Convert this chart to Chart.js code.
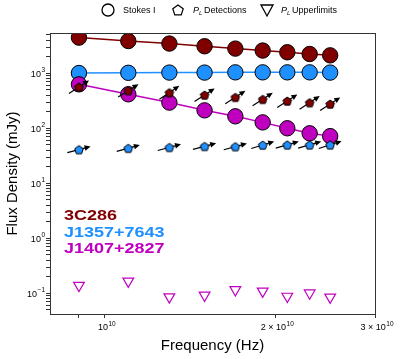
<!DOCTYPE html>
<html>
<head>
<meta charset="utf-8">
<script src="https://cdn.jsdelivr.net/npm/chart.js@4"></script>
<style>
  body { margin: 0; background: #fff; }
  canvas { display: block; }
</style>
</head>
<body>
<canvas id="fluxChart" width="400" height="359"></canvas>
<script>
// Observing frequencies (Hz)
const freqHz = [9e9, 1.1e10, 1.3e10, 1.5e10, 1.7e10, 1.9e10, 2.1e10, 2.3e10, 2.5e10];

// Stokes I flux density (mJy)
const stokes3C286 = [4450, 3860, 3470, 3100, 2810, 2590, 2410, 2240, 2120];
const stokesJ1357 = [1010, 1020, 1030, 1030, 1040, 1040, 1040, 1040, 1030];
const stokesJ1407 = [630, 415, 293, 212, 165, 128, 100, 81, 72];

// Polarized flux detections (mJy) and their angles (deg)
const pol3C286 = [564, 484, 446, 403, 366, 337, 314, 293, 277];
const polJ1357 = [41, 43.4, 45, 47, 46.4, 49.6, 50, 50, 50];
const angle3C286 = [33, 32, 34, 33, 33, 33, 33, 33, 33];
const angleJ1357 = [15, 15, 15, 15, 15, 17, 16, 16, 18];

// Polarized flux upper limits (mJy)
const upperJ1407 = [0.139, 0.166, 0.086, 0.092, 0.116, 0.109, 0.088, 0.101, 0.085];

// Source names and colours
const sourceNames = ['3C286', 'J1357+7643', 'J1407+2827'];
const sourceColors = ['#800000', '#1e90ff', '#bf00bf'];

// Tick labels: [prefix, exponent]
const xTickValues = [1e10, 2e10, 3e10];
const xTickLabels = [['10', '10'], ['2 \u00d7 10', '10'], ['3 \u00d7 10', '10']];
const yTickValues = [0.1, 1, 10, 100, 1000];
const yTickLabels = [['10', '\u22121'], ['10', '0'], ['10', '1'], ['10', '2'], ['10', '3']];

const FONT = "'Liberation Sans', Arial, sans-serif";

// Pentagon marker drawn to a small canvas
function pentagon(fill, r, lw) {
    const size = Math.ceil(r * 2 + 3);
    const c = document.createElement('canvas');
    c.width = size; c.height = size;
    const g = c.getContext('2d');
    g.beginPath();
    for (let i = 0; i < 5; i++) {
        const a = -Math.PI / 2 + i * 2 * Math.PI / 5;
        const px = size / 2 + r * Math.cos(a), py = size / 2 + r * Math.sin(a) + 0.5;
        if (i === 0) g.moveTo(px, py); else g.lineTo(px, py);
    }
    g.closePath();
    if (fill) { g.fillStyle = fill; g.fill(); }
    g.lineWidth = lw || 1;
    g.strokeStyle = '#000';
    g.stroke();
    return c;
}

const toPoints = (ys) => freqHz.map((f, i) => ({ x: f, y: ys[i] }));

// Minor ticks for log axes
function logTicks(minExp, maxExp, lo, hi) {
    const out = [];
    for (let e = minExp; e <= maxExp; e++) {
        for (let m = 1; m <= 9; m++) {
            const v = m * Math.pow(10, e);
            if (v >= lo && v <= hi) out.push({ value: v });
        }
    }
    return out;
}

// "10" with a raised exponent; align = 'right' or 'center'
function powerLabel(c, base, exp, x, y, align) {
    c.font = '9px ' + FONT;
    const wb = c.measureText(base).width;
    c.font = '6.5px ' + FONT;
    const we = c.measureText(exp).width;
    const total = wb + we + 0.5;
    const x0 = align === 'right' ? x - total : x - total / 2;
    c.font = '9px ' + FONT;
    c.fillText(base, x0, y);
    c.font = '6.5px ' + FONT;
    c.fillText(exp, x0 + wb + 0.5, y - 4.5);
}

const framePlugin = {
    id: 'frame',
    // polarization angle arrows, drawn just under each pentagon set
    beforeDatasetDraw(chart, args) {
        const ds = chart.data.datasets[args.index];
        if (!ds.angles) return;
        const ctx = chart.ctx;
        const meta = chart.getDatasetMeta(args.index);
        ctx.save();
        ctx.strokeStyle = '#000';
        ctx.fillStyle = '#000';
        ctx.lineWidth = 1.2;
        meta.data.forEach((pt, i) => {
            const a = ds.angles[i] * Math.PI / 180;
            const L = 24;
            const ux = Math.cos(a), uy = -Math.sin(a);
            const x0 = pt.x - ux * L / 2, y0 = pt.y - uy * L / 2;
            const x1 = pt.x + ux * L / 2, y1 = pt.y + uy * L / 2;
            const hl = 6, hw = 2.8;
            ctx.beginPath();
            ctx.moveTo(x0, y0);
            ctx.lineTo(x1 - ux * hl * 0.7, y1 - uy * hl * 0.7);
            ctx.stroke();
            ctx.beginPath();
            ctx.moveTo(x1, y1);
            ctx.lineTo(x1 - ux * hl - uy * hw, y1 - uy * hl + ux * hw);
            ctx.lineTo(x1 - ux * hl + uy * hw, y1 - uy * hl - ux * hw);
            ctx.closePath();
            ctx.fill();
        });
        ctx.restore();
    },
    afterDraw(chart) {
        const ctx = chart.ctx;
        const a = chart.chartArea;
        ctx.save();
        // plot frame
        ctx.strokeStyle = '#333';
        ctx.lineWidth = 1;
        ctx.strokeRect(a.left + 0.5, a.top + 0.5, a.right - a.left, a.bottom - a.top);

        // tick labels with superscripts
        ctx.fillStyle = '#000';
        ctx.textBaseline = 'alphabetic';
        ctx.textAlign = 'left';
        const ys = chart.scales.y, xs = chart.scales.x;
        yTickValues.forEach((v, i) => {
            powerLabel(ctx, yTickLabels[i][0], yTickLabels[i][1], 45, ys.getPixelForValue(v) + 3.5, 'right');
        });
        xTickValues.forEach((v, i) => {
            powerLabel(ctx, xTickLabels[i][0], xTickLabels[i][1], xs.getPixelForValue(v) + 2, a.bottom + 16, 'center');
        });

        // source labels
        ctx.font = 'bold 15px ' + FONT;
        const baselines = [220, 236.7, 253.3];
        sourceNames.forEach((name, i) => {
            ctx.save();
            ctx.translate(64, baselines[i]);
            ctx.scale(1.2, 1);
            ctx.fillStyle = sourceColors[i];
            ctx.fillText(name, 0, 0);
            ctx.restore();
        });

        // legend
        ctx.strokeStyle = '#000';
        ctx.lineWidth = 1.3;
        ctx.beginPath();
        ctx.arc(108, 10, 6, 0, Math.PI * 2);
        ctx.stroke();
        ctx.drawImage(pentagon(null, 5.5, 1.2), 178 - 7, 10 - 7);
        ctx.beginPath();
        ctx.moveTo(261, 5);
        ctx.lineTo(273, 5);
        ctx.lineTo(267, 16);
        ctx.closePath();
        ctx.stroke();

        ctx.fillStyle = '#000';
        ctx.font = '9px ' + FONT;
        ctx.fillText('Stokes I', 123, 13);
        const plText = (x, rest) => {
            ctx.font = 'italic 9px ' + FONT;
            ctx.fillText('P', x, 13);
            const w = ctx.measureText('P').width;
            ctx.font = 'italic 6px ' + FONT;
            ctx.fillText('L', x + w, 15);
            ctx.font = '9px ' + FONT;
            ctx.fillText(rest, x + w + 5, 13);
        };
        plText(193, 'Detections');
        plText(281, 'Upperlimits');
        ctx.restore();
    }
};

const ctx = document.getElementById('fluxChart').getContext('2d');
const fluxChart = new Chart(ctx, {
    type: 'scatter',
    data: {
        datasets: [
            {
                label: '3C286 Stokes I', data: toPoints(stokes3C286), order: 6,
                showLine: true, borderColor: sourceColors[0], borderWidth: 1.5,
                pointBackgroundColor: sourceColors[0], pointBorderColor: '#000',
                pointBorderWidth: 1, pointRadius: 7.7,
            },
            {
                label: 'J1357 Stokes I', data: toPoints(stokesJ1357), order: 5,
                showLine: true, borderColor: sourceColors[1], borderWidth: 1.5,
                pointBackgroundColor: sourceColors[1], pointBorderColor: '#000',
                pointBorderWidth: 1, pointRadius: 7.7,
            },
            {
                label: 'J1407 Stokes I', data: toPoints(stokesJ1407), order: 4,
                showLine: true, borderColor: sourceColors[2], borderWidth: 1.5,
                pointBackgroundColor: sourceColors[2], pointBorderColor: '#000',
                pointBorderWidth: 1, pointRadius: 7.7,
            },
            {
                label: '3C286 PL', data: toPoints(pol3C286), order: 3, angles: angle3C286,
                pointStyle: pentagon(sourceColors[0], 4.5), pointRadius: 5,
            },
            {
                label: 'J1357 PL', data: toPoints(polJ1357), order: 2, angles: angleJ1357,
                pointStyle: pentagon(sourceColors[1], 4.5), pointRadius: 5,
            },
            {
                label: 'J1407 PL upper', data: toPoints(upperJ1407), order: 1,
                pointStyle: 'triangle', rotation: 180, pointRadius: 6.2,
                pointBackgroundColor: 'rgba(0,0,0,0)', pointBorderColor: sourceColors[2],
                pointBorderWidth: 1.2,
            },
        ],
    },
    options: {
        responsive: false,
        animation: false,
        layout: { padding: { top: 33, right: 25, left: 0, bottom: 0 } },
        plugins: { legend: { display: false }, tooltip: { enabled: false } },
        scales: {
            x: {
                type: 'logarithmic', min: 8e9, max: 3e10,
                afterBuildTicks: (s) => { s.ticks = logTicks(9, 10, 8.5e9, 3e10); },
                afterFit: (s) => { s.height = 45; },
                border: { display: true, color: '#333', width: 1 },
                grid: { drawOnChartArea: false, drawTicks: true, tickLength: 4, color: '#333' },
                ticks: { display: false },
                title: {
                    display: true, text: 'Frequency (Hz)', color: '#000',
                    font: { family: FONT, size: 15 }, padding: { top: 2 },
                },
            },
            y: {
                type: 'logarithmic', min: 0.042, max: 5400,
                afterBuildTicks: (s) => { s.ticks = logTicks(-2, 3, 0.042, 5400); },
                afterFit: (s) => { s.width = 50; },
                border: { display: true, color: '#333', width: 1 },
                grid: { drawOnChartArea: false, drawTicks: true, tickLength: 4, color: '#333' },
                ticks: { display: false },
                title: {
                    display: true, text: 'Flux Density (mJy)', color: '#000',
                    font: { family: FONT, size: 15 }, padding: { bottom: 2 },
                },
            },
        },
    },
    plugins: [framePlugin],
});
</script>
</body>
</html>
